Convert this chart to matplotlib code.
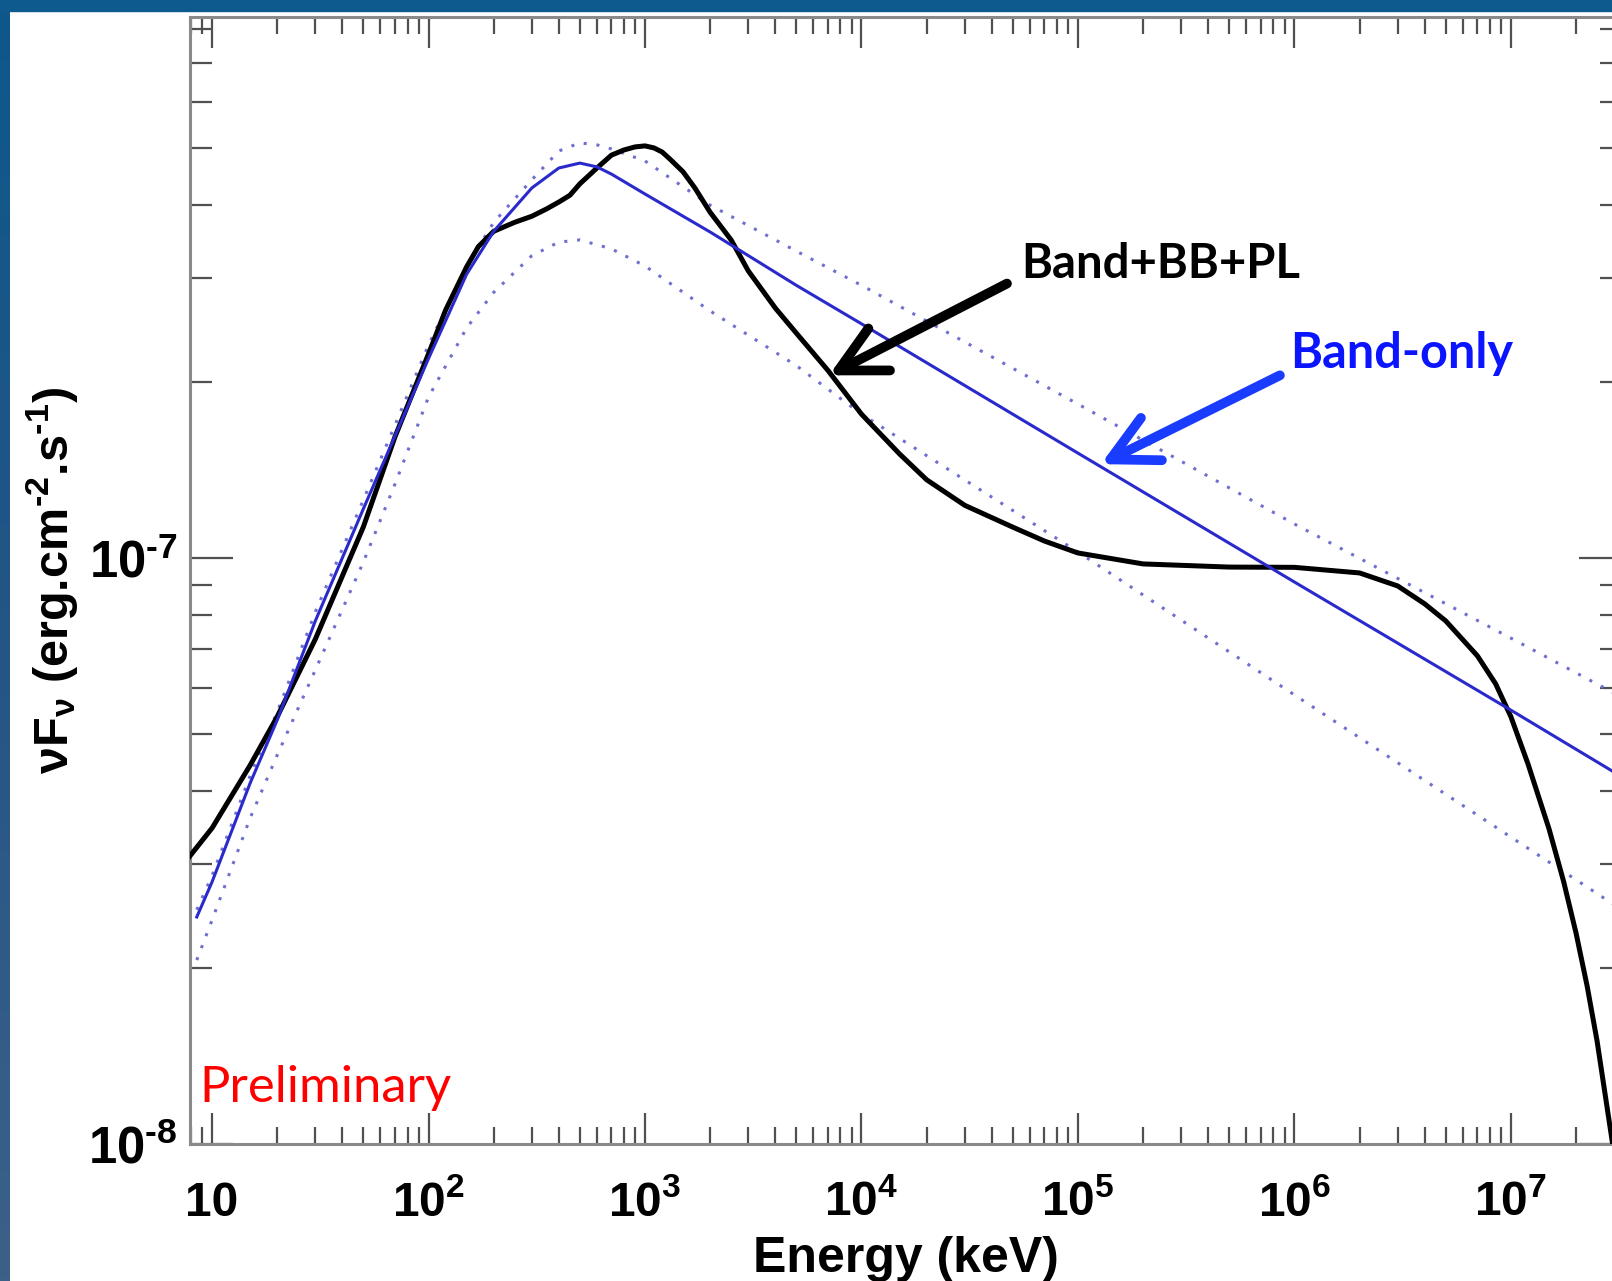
import numpy as np
import matplotlib
matplotlib.use('Agg')
import matplotlib.pyplot as plt
from matplotlib.colors import LinearSegmentedColormap
from matplotlib.ticker import NullFormatter

plt.rcParams['mathtext.fontset'] = 'custom'
plt.rcParams['mathtext.rm'] = 'Liberation Sans:bold'
plt.rcParams['mathtext.it'] = 'Liberation Sans:bold'
plt.rcParams['mathtext.bf'] = 'Liberation Sans:bold'
plt.rcParams['mathtext.default'] = 'rm'

# nuFnu spectra, energy in keV, flux in erg/cm2/s
energy_bbpl = [7.9, 10, 15, 20, 30, 50, 70, 100, 120, 150, 170, 200, 250, 300,
               350, 400, 450, 500, 600, 700, 800, 900, 1000, 1100, 1200, 1300,
               1500, 1700, 2000, 2500, 3000, 4000, 5000, 7000, 1e4, 1.5e4, 2e4,
               3e4, 5e4, 7e4, 1e5, 2e5, 5e5, 1e6, 2e6, 3e6, 4e6, 5e6, 7e6,
               8.5e6, 1e7, 1.2e7, 1.35e7, 1.5e7, 1.75e7, 2e7, 2.25e7, 2.5e7, 3e7]
flux_bbpl = [3.10e-8, 3.46e-8, 4.43e-8, 5.36e-8, 7.27e-8, 1.13e-7, 1.61e-7,
             2.23e-7, 2.65e-7, 3.14e-7, 3.40e-7, 3.61e-7, 3.74e-7, 3.83e-7,
             3.94e-7, 4.05e-7, 4.16e-7, 4.35e-7, 4.63e-7, 4.87e-7, 4.97e-7,
             5.03e-7, 5.05e-7, 5.01e-7, 4.93e-7, 4.80e-7, 4.56e-7, 4.28e-7,
             3.89e-7, 3.49e-7, 3.09e-7, 2.67e-7, 2.42e-7, 2.09e-7, 1.76e-7,
             1.505e-7, 1.36e-7, 1.23e-7, 1.129e-7, 1.069e-7, 1.020e-7, 9.77e-8,
             9.65e-8, 9.64e-8, 9.43e-8, 8.96e-8, 8.35e-8, 7.81e-8, 6.81e-8,
             6.10e-8, 5.36e-8, 4.45e-8, 3.89e-8, 3.45e-8, 2.81e-8, 2.29e-8,
             1.86e-8, 1.50e-8, 9.6e-9]

energy_band = [8.5, 10, 15, 20, 30, 50, 70, 100, 150, 200, 300, 400, 500, 600,
               700, 1000, 2000, 5000, 1e4, 1e5, 1e6, 1e7, 3e7]
flux_band = [2.44e-8, 2.80e-8, 4.13e-8, 5.29e-8, 7.81e-8, 1.213e-7, 1.615e-7,
             2.19e-7, 3.05e-7, 3.61e-7, 4.28e-7, 4.63e-7, 4.72e-7, 4.65e-7,
             4.52e-7, 4.18e-7, 3.60e-7, 2.92e-7, 2.51e-7, 1.51e-7, 9.10e-8,
             5.50e-8, 4.31e-8]

energy_band_hi = [8.5, 10, 15, 20, 30, 50, 70, 100, 150, 200, 300, 400, 500,
                  600, 700, 1000, 2000, 5000, 1e4, 1e5, 1e6, 1e7, 3e7]
flux_band_hi = [2.51e-8, 2.87e-8, 4.25e-8, 5.46e-8, 8.09e-8, 1.256e-7, 1.686e-7,
                2.31e-7, 3.15e-7, 3.74e-7, 4.42e-7, 4.95e-7, 5.11e-7, 5.07e-7,
                4.99e-7, 4.76e-7, 4.00e-7, 3.34e-7, 2.92e-7, 1.831e-7, 1.143e-7,
                7.30e-8, 5.88e-8]

energy_band_lo = [8.5, 10, 15, 20, 30, 50, 70, 100, 150, 200, 300, 400, 500,
                  700, 1000, 2000, 5000, 1e4, 1e5, 1e6, 1e7, 3e7]
flux_band_lo = [2.06e-8, 2.41e-8, 3.60e-8, 4.61e-8, 6.44e-8, 9.84e-8, 1.337e-7,
                1.882e-7, 2.47e-7, 2.84e-7, 3.28e-7, 3.46e-7, 3.49e-7, 3.37e-7,
                3.15e-7, 2.64e-7, 2.13e-7, 1.76e-7, 1.024e-7, 5.84e-8, 3.34e-8,
                2.56e-8]

xmajor = [10, 1e2, 1e3, 1e4, 1e5, 1e6, 1e7]
xlabels = ['10', '$10^{2}$', '$10^{3}$', '$10^{4}$', '$10^{5}$', '$10^{6}$', '$10^{7}$']
ymajor = [1e-8, 1e-7]
ylabels = [r'$10^{\text{-}8}$', r'$10^{\text{-}7}$']

W, H = 1612, 1281
fig = plt.figure(figsize=(W / 100, H / 100), dpi=100)
fig.patch.set_facecolor('white')

# slide frame: blue strip on top and on the left
left_bar = fig.add_axes([0, 0, 10 / W, 1])
cmap = LinearSegmentedColormap.from_list('frame', ['#0e588c', '#245585', '#3c6189'])
left_bar.imshow(np.linspace(0, 1, 256).reshape(-1, 1), aspect='auto', cmap=cmap,
                extent=[0, 1, 0, 1])
left_bar.axis('off')
fig.add_artist(plt.Rectangle((0, 1 - 11 / H), 1, 11 / H, transform=fig.transFigure,
                             color='#0e5a8e', zorder=10))

ax = fig.add_axes([190 / W, (H - 1144) / H, 1432 / W, 1127 / H])
ax.set_xscale('log')
ax.set_yscale('log')

ax.plot(energy_band_hi, flux_band_hi, color='#6f6fcf', lw=2.2, ls=(0, (1, 3.2)), zorder=2)
ax.plot(energy_band_lo, flux_band_lo, color='#6f6fcf', lw=2.2, ls=(0, (1, 3.2)), zorder=2)
ax.plot(energy_bbpl, flux_bbpl, color='black', lw=3.6, zorder=3,
        solid_joinstyle='round')
ax.plot(energy_band, flux_band, color='#2a2acc', lw=2.2, zorder=4)

xminor = [m * 10.0 ** k for k in range(0, 8) for m in range(2, 10)]
yminor = [m * 10.0 ** k for k in (-9, -8, -7) for m in range(2, 10)]
ax.set_xticks(xmajor, labels=xlabels)
ax.set_xticks(xminor, minor=True)
ax.set_yticks(ymajor, labels=ylabels)
ax.set_yticks(yminor, minor=True)
ax.xaxis.set_minor_formatter(NullFormatter())
ax.yaxis.set_minor_formatter(NullFormatter())
ax.set_xlim(7.91, 3.26e7)
ax.set_ylim(1e-8, 8.38e-7)

ax.tick_params(which='both', direction='in', top=True, right=True,
               color='#505050', width=1.6)
ax.tick_params(axis='x', which='major', length=22, labelsize=34.5, pad=52)
ax.tick_params(axis='x', which='minor', length=12)
ax.tick_params(axis='y', which='major', length=31, labelsize=36.5, pad=9)
ax.tick_params(axis='y', which='minor', length=16)
for lbl in ax.get_xticklabels():
    lbl.set_fontweight('bold')
    lbl.set_family('Liberation Sans')
    lbl.set_va('baseline')
for lbl in ax.get_yticklabels():
    lbl.set_fontweight('bold')
    lbl.set_family('Liberation Sans')

for s in ax.spines.values():
    s.set_color('#8a8a8a')
    s.set_linewidth(2.2)

ax.set_xlabel('Energy (keV)', fontsize=36, fontweight='bold', family='Liberation Sans')
ax.xaxis.set_label_coords(0.5, (1144 - 1272) / 1127)
ax.xaxis.label.set_va('baseline')
ax.set_ylabel(r'$\nu F_{\nu}$ (erg.cm$^{\text{-}2}$.s$^{\text{-}1}$)', fontsize=35,
              fontweight='bold', family='Liberation Sans')
ax.yaxis.set_label_coords((52 - 190) / 1432, 0.5)
ax.yaxis.label.set_va('center')

# annotations
arrow_style = '->,head_length=3.3,head_width=1.7'
ax.annotate('', xy=(7.08e3, 2.05e-7), xytext=(4.70e4, 2.94e-7),
            arrowprops=dict(arrowstyle=arrow_style, lw=7, color='black',
                            shrinkA=0, shrinkB=0, mutation_scale=10,
                            capstyle='round', joinstyle='round'), zorder=6)
ax.text(5.46e4, 3.0e-7, 'Band+BB+PL', fontsize=34, fontweight='bold',
        family='Lato', ha='left', va='baseline', zorder=6)

ax.annotate('', xy=(1.276e5, 1.446e-7), xytext=(8.57e5, 2.05e-7),
            arrowprops=dict(arrowstyle=arrow_style, lw=7, color='#1a3cff',
                            shrinkA=0, shrinkB=0, mutation_scale=10,
                            capstyle='round', joinstyle='round'), zorder=6)
ax.text(9.53e5, 2.11e-7, 'Band-only', fontsize=35, fontweight='bold',
        family='Lato', color='#0a14ff', ha='left', va='baseline', zorder=6)

ax.text(8.71, 1.18e-8, 'Preliminary', fontsize=36.5, family='Lato',
        color='#ff0000', ha='left', va='baseline', zorder=6)

fig.savefig('out.png', dpi=100)
